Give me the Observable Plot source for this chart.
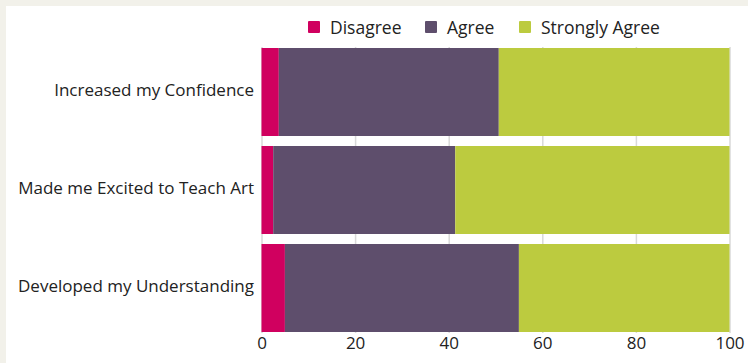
<!DOCTYPE html>
<html>
<head>
<meta charset="utf-8">
<script src="https://cdn.jsdelivr.net/npm/d3@7"></script>
<script src="https://cdn.jsdelivr.net/npm/@observablehq/plot@0.6"></script>
<style>
  html, body { margin: 0; padding: 0; background: #f2f1ea; }
  #wrap { position: relative; width: 748px; height: 363px; overflow: hidden; font-family: "Open Sans", sans-serif; }
  #panel { position: absolute; left: 6px; top: 6px; width: 742px; height: 357px; background: #fff; }
  #legend { position: absolute; top: 0; left: 0; font-size: 17.5px; color: #222; white-space: nowrap; }
  #legend .item { position: absolute; top: 15px; display: flex; align-items: center; }
  #legend .sw { width: 12px; height: 12px; margin-right: 10px; border-radius: 1px; }
  #chart { position: absolute; left: 0; top: 0; }
</style>
</head>
<body>
<div id="wrap">
  <div id="panel"></div>
  <div id="legend"></div>
  <div id="chart"></div>
</div>
<script>
const questions = ["Increased my Confidence", "Made me Excited to Teach Art", "Developed my Understanding"];
const responses = ["Disagree", "Agree", "Strongly Agree"];
const colors = ["#d0005f", "#5e4e6c", "#bccb3f"];
const disagree = [3.7, 2.5, 5.0];
const agree = [47.0, 38.9, 50.0];
const stronglyAgree = [49.3, 58.6, 45.0];
const xTicks = [0, 20, 40, 60, 80, 100];
const legendLeft = [308, 425, 519];

const series = [disagree, agree, stronglyAgree];
const data = [];
questions.forEach((q, i) => {
  responses.forEach((r, j) => data.push({question: q, response: r, value: series[j][i]}));
});

const legend = document.getElementById("legend");
responses.forEach((r, j) => {
  const item = document.createElement("div");
  item.className = "item";
  item.style.left = legendLeft[j] + "px";
  const sw = document.createElement("div");
  sw.className = "sw";
  sw.style.background = colors[j];
  const t = document.createElement("span");
  t.textContent = r;
  item.appendChild(sw);
  item.appendChild(t);
  legend.appendChild(item);
});

const chart = Plot.plot({
  width: 748,
  height: 363,
  marginLeft: 261.5,
  marginRight: 18.5,
  marginTop: 47,
  marginBottom: 30,
  style: {background: "transparent", fontFamily: "'Open Sans', sans-serif", fontSize: "17px", color: "#222"},
  x: {domain: [0, 100], ticks: xTicks, label: null},
  y: {domain: questions, paddingInner: 0.1, paddingOuter: 0, label: null},
  color: {domain: responses, range: colors},
  marks: [
    Plot.gridX(xTicks, {stroke: "#d9d9d9", strokeOpacity: 1, strokeWidth: 1.5}),
    Plot.barX(data, Plot.stackX({y: "question", x: "value", fill: "response", order: responses})),
    Plot.axisX({ticks: xTicks, tickSize: 0, tickPadding: 3, fontSize: 17, label: null}),
    Plot.axisY({tickSize: 0, tickPadding: 8, fontSize: 17, dy: -2, label: null})
  ]
});
document.getElementById("chart").appendChild(chart);
</script>
</body>
</html>
